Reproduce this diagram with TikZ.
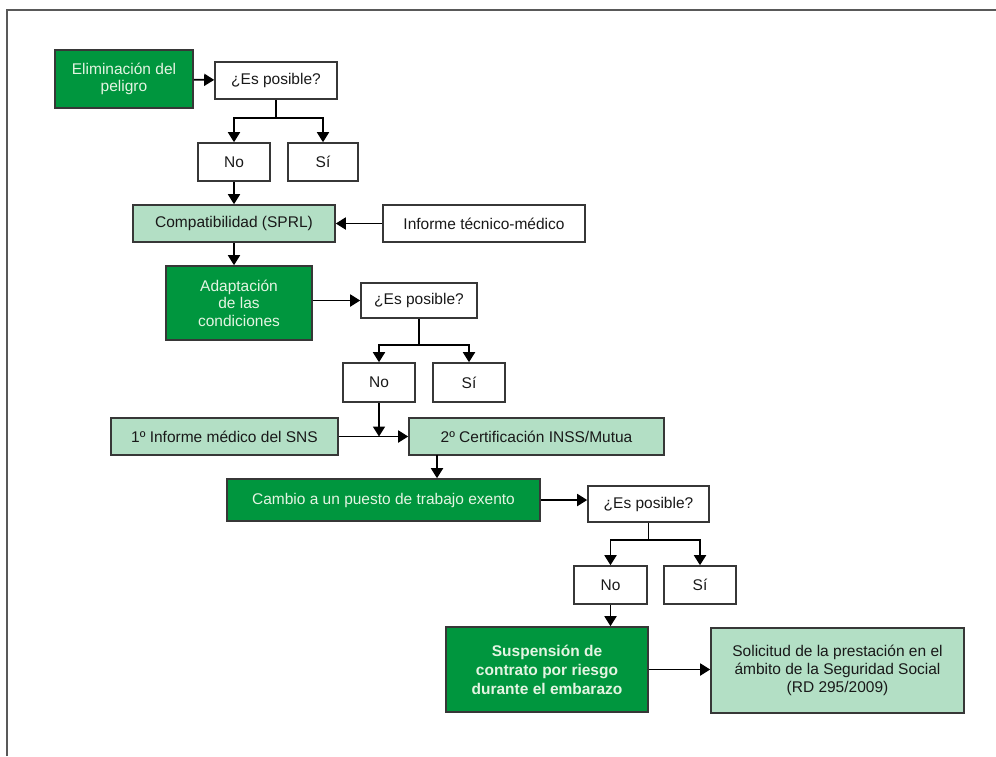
\documentclass[tikz,border=0pt]{standalone}
\usepackage{fontspec}
\setmainfont{Liberation Sans}
\usetikzlibrary{arrows.meta, positioning}
\definecolor{darkgreen}{RGB}{0, 150, 62}
\definecolor{palegreen}{RGB}{179, 223, 197}
\definecolor{boxline}{RGB}{55, 55, 55}
\definecolor{paletext}{RGB}{228, 244, 226}

\begin{document}
\begin{tikzpicture}[x=1pt, y=-1pt,
  gbox/.style={draw=boxline, fill=darkgreen, text=paletext, line width=1.6pt, align=center, font=\fontsize{15.5}{17.5}\selectfont, inner sep=0pt},
  lbox/.style={draw=boxline, fill=palegreen, text=black!90, line width=1.6pt, align=center, font=\fontsize{15.5}{17.5}\selectfont, inner sep=0pt},
  wbox/.style={draw=boxline, fill=white, text=black!90, line width=1.6pt, align=center, font=\fontsize{15.5}{17.5}\selectfont, inner sep=0pt},
  arr/.style={-{Triangle[length=10pt, width=12pt]}, line width=1.8pt, black}
]
  \useasboundingbox (0,0) rectangle (996,756);
  \draw[line width=2.2pt, black!65] (7,756) -- (7,10) -- (996,10);

  % First step: remove the hazard
  \node[gbox, minimum width=138, minimum height=58] (elim) at (124,79) {Eliminación del\\peligro};
  \node[wbox, minimum width=122, minimum height=37] (esp1) at (276,80.5) {¿Es posible?};
  \draw[arr] (elim) -- (esp1);

  \node[wbox, minimum width=72, minimum height=38] (no1) at (234,162) {No};
  \node[wbox, minimum width=70, minimum height=38] (si1) at (323,162) {Sí};
  \coordinate (j1) at (276,118);
  \draw[line width=1.8pt] (esp1) -- (j1);
  \draw[arr] (j1) -| (no1);
  \draw[arr] (j1) -| (si1);

  % Compatibility
  \node[lbox, minimum width=202, minimum height=37] (compat) at (234,223.5) {Compatibilidad (SPRL)};
  \node[wbox, minimum width=202, minimum height=37] (informe) at (484,223.5) {Informe técnico-médico};
  \draw[arr] (no1) -- (compat);
  \draw[arr] (informe) -- (compat);

  % Adapting the conditions
  \node[gbox, minimum width=146, minimum height=74] (adapt) at (239,303) {Adaptación\\de las\\condiciones};
  \node[wbox, minimum width=116, minimum height=35] (esp2) at (419,300.5) {¿Es posible?};
  \draw[arr] (compat.south) -- (compat.south |- adapt.north);
  \draw[arr] (adapt.east |- esp2.west) -- (esp2.west);

  \node[wbox, minimum width=72, minimum height=39] (no2) at (379,382.5) {No};
  \node[wbox, minimum width=72, minimum height=39] (si2) at (469,382.5) {Sí};
  \coordinate (j2) at (419,345);
  \draw[line width=1.8pt] (esp2) -- (j2);
  \draw[arr] (j2) -| (no2);
  \draw[arr] (j2) -| (si2);

  % Reports
  \node[lbox, minimum width=227, minimum height=37] (inf1) at (224.5,436.5) {1º Informe médico del SNS};
  \node[lbox, minimum width=255, minimum height=37] (cert) at (536.5,436.5) {2º Certificación INSS/Mutua};
  \draw[arr] (inf1) -- (cert);
  \draw[arr] (no2) -- (no2.south |- inf1.east);

  % Change of job
  \node[gbox, minimum width=313, minimum height=42] (cambio) at (383.5,500) {Cambio a un puesto de trabajo exento};
  \node[wbox, minimum width=121, minimum height=36] (esp3) at (648.5,504) {¿Es posible?};
  \coordinate (c2) at (437,455);
  \draw[arr] (c2) -- (c2 |- cambio.north);
  \draw[arr] (cambio.east) -- (cambio.east -| esp3.west);

  \node[wbox, minimum width=73, minimum height=38] (no3) at (610.5,585) {No};
  \node[wbox, minimum width=72, minimum height=38] (si3) at (700,585) {Sí};
  \coordinate (j3) at (648.5,540);
  \draw[line width=1.8pt] (esp3) -- (j3);
  \draw[arr] (j3) -| (no3);
  \draw[arr] (j3) -| (si3);

  % Suspension of the contract
  \node[gbox, minimum width=202, minimum height=85, font=\fontsize{15.5}{19}\selectfont\bfseries] (susp) at (547,669.5) {Suspensión de\\contrato por riesgo\\durante el embarazo};
  \node[lbox, minimum width=253, minimum height=85, font=\fontsize{15.5}{18}\selectfont] (solic) at (837.5,670.5) {Solicitud de la prestación en el\\ámbito de la Seguridad Social\\(RD 295/2009)};
  \draw[arr] (no3.south) -- (no3.south |- susp.north);
  \draw[arr] (susp) -- (susp -| solic.west);
\end{tikzpicture}
\end{document}
